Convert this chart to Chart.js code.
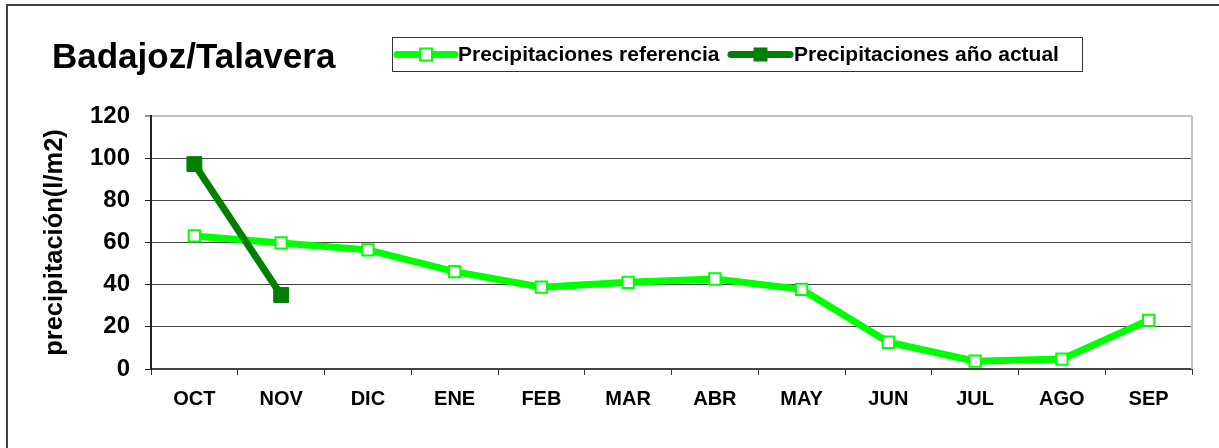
<!DOCTYPE html>
<html>
<head>
<meta charset="utf-8">
<script src="https://cdn.jsdelivr.net/npm/chart.js@4.4.1/dist/chart.umd.min.js"></script>
<style>
  html, body { margin: 0; padding: 0; background: #ffffff; }
  #wrap { width: 1219px; height: 448px; }
</style>
</head>
<body>
<div id="wrap"><canvas id="c" width="1219" height="448"></canvas></div>
<script>
const chartTitle = 'Badajoz/Talavera';
const yAxisTitle = 'precipitación(l/m2)';
const months = ['OCT', 'NOV', 'DIC', 'ENE', 'FEB', 'MAR', 'ABR', 'MAY', 'JUN', 'JUL', 'AGO', 'SEP'];
const referenceLabel = 'Precipitaciones referencia';
const referenceValues = [63.1, 59.8, 56.5, 46.2, 38.8, 41.1, 42.7, 37.8, 12.7, 3.7, 4.7, 23.1];
const currentLabel = 'Precipitaciones año actual';
const currentValues = [97.2, 35.1, null, null, null, null, null, null, null, null, null, null];
const yTicks = [0, 20, 40, 60, 80, 100, 120];

const FONT = 'Liberation Sans, Arial, Helvetica, sans-serif';
const REF_COLOR = '#00ff00';
const CUR_COLOR = '#008000';

const decorPlugin = {
  id: 'decor',
  beforeDatasetsDraw(chart) {
    const { ctx, chartArea } = chart;
    ctx.save();
    ctx.strokeStyle = '#c0c0c0';
    ctx.lineWidth = 2;
    ctx.beginPath();
    ctx.moveTo(chartArea.right, chartArea.top);
    ctx.lineTo(chartArea.right, chartArea.bottom);
    ctx.stroke();
    ctx.restore();
  },
  afterDraw(chart) {
    const { ctx } = chart;
    ctx.save();
    // outer frame
    ctx.strokeStyle = '#404040';
    ctx.lineWidth = 2;
    ctx.beginPath();
    ctx.moveTo(7, 448);
    ctx.lineTo(7, 5);
    ctx.lineTo(1219, 5);
    ctx.stroke();
    // title
    ctx.fillStyle = '#000';
    ctx.font = 'bold 35px ' + FONT;
    ctx.textBaseline = 'alphabetic';
    ctx.textAlign = 'left';
    ctx.fillText(chartTitle, 52, 68);
    // legend box
    ctx.strokeStyle = '#333';
    ctx.lineWidth = 1;
    ctx.strokeRect(392.5, 37.5, 690, 34);
    const items = [
      { label: referenceLabel, color: REF_COLOR, fill: '#ffffff', x0: 397, x1: 455, tx: 458 },
      { label: currentLabel, color: CUR_COLOR, fill: CUR_COLOR, x0: 731, x1: 790, tx: 794 }
    ];
    const y = 54.5;
    items.forEach(it => {
      ctx.strokeStyle = it.color;
      ctx.lineWidth = 7;
      ctx.lineCap = 'round';
      ctx.beginPath();
      ctx.moveTo(it.x0, y);
      ctx.lineTo(it.x1, y);
      ctx.stroke();
      const cx = (it.x0 + it.x1) / 2;
      ctx.lineCap = 'butt';
      ctx.fillStyle = it.fill;
      ctx.fillRect(cx - 6, y - 6, 12, 12);
      ctx.lineWidth = 2;
      ctx.strokeRect(cx - 6, y - 6, 12, 12);
      ctx.fillStyle = '#000';
      ctx.font = 'bold 21px ' + FONT;
      ctx.textBaseline = 'middle';
      ctx.fillText(it.label, it.tx, y + 1);
    });
    ctx.restore();
  }
};

new Chart(document.getElementById('c'), {
  type: 'line',
  data: {
    labels: months,
    datasets: [
      {
        label: referenceLabel,
        data: referenceValues,
        borderColor: REF_COLOR,
        backgroundColor: '#ffffff',
        borderWidth: 7,
        pointStyle: 'rect',
        pointRadius: 8,
        pointBorderWidth: 2,
        pointBorderColor: REF_COLOR,
        pointBackgroundColor: '#ffffff',
        tension: 0,
        order: 2
      },
      {
        label: currentLabel,
        data: currentValues,
        borderColor: CUR_COLOR,
        backgroundColor: CUR_COLOR,
        borderWidth: 7,
        pointStyle: 'rect',
        pointRadius: 10.5,
        pointBorderWidth: 1,
        pointBorderColor: CUR_COLOR,
        pointBackgroundColor: CUR_COLOR,
        tension: 0,
        spanGaps: false,
        order: 1
      }
    ]
  },
  options: {
    responsive: false,
    animation: false,
    devicePixelRatio: 1,
    layout: { padding: { left: 10, top: 116, right: 27, bottom: 0 } },
    plugins: {
      legend: { display: false },
      title: { display: false },
      tooltip: { enabled: false }
    },
    scales: {
      x: {
        type: 'category',
        offset: true,
        grid: {
          offset: true,
          drawOnChartArea: false,
          drawTicks: true,
          tickLength: 6,
          tickColor: '#333',
          tickWidth: 1
        },
        border: { color: '#444', width: 2 },
        ticks: {
          color: '#000',
          font: { family: FONT, size: 20, weight: 'bold' },
          padding: 12,
          maxRotation: 0,
          autoSkip: false
        },
        afterFit(scale) { scale.height = 79; }
      },
      y: {
        min: 0,
        max: 120,
        afterBuildTicks(scale) { scale.ticks = yTicks.map(v => ({ value: v })); },
        grid: {
          color: c => (c.tick && c.tick.value === 120) ? '#c0c0c0' : '#444',
          lineWidth: c => (c.tick && c.tick.value === 120) ? 2 : 1,
          tickLength: 6,
          tickColor: '#222',
          tickWidth: 1
        },
        border: { color: '#222', width: 2 },
        ticks: {
          color: '#000',
          font: { family: FONT, size: 24, weight: 'bold' },
          padding: 15
        },
        title: {
          display: true,
          text: yAxisTitle,
          color: '#000',
          font: { family: FONT, size: 25.5, weight: 'bold' },
          padding: { top: 30, bottom: 0 }
        },
        afterFit(scale) { scale.width = 141; }
      }
    }
  },
  plugins: [decorPlugin]
});
</script>
</body>
</html>
